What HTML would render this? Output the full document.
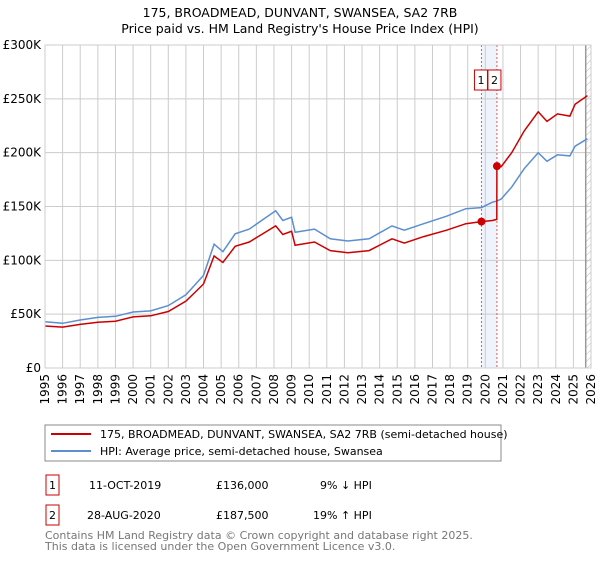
<!DOCTYPE html>
<html><head><meta charset="utf-8"><style>
body{margin:0;background:#fff;font-family:"Liberation Sans","DejaVu Sans",sans-serif;}
svg text{font-family:"DejaVu Sans","Liberation Sans",sans-serif;}
</style></head><body>
<svg id="c" width="600" height="560" xmlns="http://www.w3.org/2000/svg">
<text x="300" y="17" text-anchor="middle" font-size="12.5">175, BROADMEAD, DUNVANT, SWANSEA, SA2 7RB</text>
<text x="300" y="33" text-anchor="middle" font-size="12.5">Price paid vs. HM Land Registry's House Price Index (HPI)</text>
<g id="grid"></g>
<g id="series"></g>
<g id="axes"></g>
<rect x="45" y="425" width="456" height="36" fill="#fff" stroke="#888"/>
<line x1="51" y1="434" x2="91" y2="434" stroke="#cc0000" stroke-width="2"/>
<text x="100" y="438" font-size="11">175, BROADMEAD, DUNVANT, SWANSEA, SA2 7RB (semi-detached house)</text>
<line x1="51" y1="451" x2="91" y2="451" stroke="#5b8fd0" stroke-width="2"/>
<text x="100" y="455" font-size="11">HPI: Average price, semi-detached house, Swansea</text>
<g font-size="11">
<rect x="46" y="475" width="13" height="20" fill="none" stroke="#cc0000"/>
<text x="52.5" y="489" text-anchor="middle">1</text>
<text x="89" y="489">11-OCT-2019</text><text x="216" y="489">£136,000</text><text x="320" y="489">9% ↓ HPI</text>
<rect x="46" y="505" width="13" height="20" fill="none" stroke="#cc0000"/>
<text x="52.5" y="519" text-anchor="middle">2</text>
<text x="87" y="519">28-AUG-2020</text><text x="216" y="519">£187,500</text><text x="313" y="519">19% ↑ HPI</text>
</g>
<text x="45" y="539" font-size="11" fill="#777">Contains HM Land Registry data © Crown copyright and database right 2025.</text>
<text x="45" y="550" font-size="11" fill="#777">This data is licensed under the Open Government Licence v3.0.</text>
</svg>
<script>
const hpiYears=[1995,1996,1997,1998,1999,2000,2001,2002,2003,2003.5,2004,2004.6,2005.1,2005.8,2006.6,2007.3,2008.1,2008.5,2009.0,2009.2,2010.3,2011.2,2012.2,2013.4,2014.7,2015.4,2016.5,2017.8,2018.9,2019.78,2020.4,2020.66,2020.9,2021.5,2022.2,2023.0,2023.5,2024.1,2024.8,2025.1,2025.8];
const hpiValues=[43,41.5,44.6,47,48,52,53,58,68,77,86,115,108,124.6,129,137,146,137,140,126,129,120,118,120,132,128,134,141,148,149,154,155,157,168,185,200,192,198,197,206,213];
const priceYears=[1995,1996,1997,1998,1999,2000,2001,2002,2003,2003.5,2004,2004.6,2005.1,2005.8,2006.6,2007.3,2008.1,2008.5,2009.0,2009.2,2010.3,2011.2,2012.2,2013.4,2014.7,2015.4,2016.5,2017.8,2018.9,2019.78,2020.4,2020.65,2020.66,2020.9,2021.5,2022.2,2023.0,2023.5,2024.1,2024.8,2025.1,2025.8];
const priceValues=[39,38,40.5,42.5,43.5,47.5,48.5,52.5,62,70,78,104,98,113,117,124,132,124,127,114,117,109,107,109,120,116,122,128,134,136,137,138,187.5,187,200,220,238,229,236,234,245,253];
const saleYears=[2019.78,2020.66];
const saleValues=[136,187.5];
const saleLabels=["1","2"];
const yTicks=[0,50,100,150,200,250,300];
const yTickLabels=["£0","£50K","£100K","£150K","£200K","£250K","£300K"];
const xTicks=[1995,1996,1997,1998,1999,2000,2001,2002,2003,2004,2005,2006,2007,2008,2009,2010,2011,2012,2013,2014,2015,2016,2017,2018,2019,2020,2021,2022,2023,2024,2025,2026];
const dataEnd=2025.7;

const X0=45,X1=591,Y0=368,Y1=45,xMin=1995,xMax=2026,yMax=300;
const xs=v=>X0+(v-xMin)/(xMax-xMin)*(X1-X0);
const ys=v=>Y0-v/yMax*(Y0-Y1);
const NS="http://www.w3.org/2000/svg";
function mk(tag,attrs,parent,text){const e=document.createElementNS(NS,tag);for(const k in attrs)e.setAttribute(k,attrs[k]);if(text!==undefined)e.textContent=text;parent.appendChild(e);return e;}
const grid=document.getElementById('grid'),series=document.getElementById('series'),axes=document.getElementById('axes');
const sh=mk('rect',{x:xs(saleYears[0]),y:Y1,width:xs(saleYears[1])-xs(saleYears[0]),height:Y0-Y1,fill:'#eef3fc'},grid);


const defs=mk('defs',{},grid);
const pat=mk('pattern',{id:'hatch',width:5,height:5,patternUnits:'userSpaceOnUse',patternTransform:'rotate(45)'},defs);
mk('line',{x1:0,y1:0,x2:0,y2:5,stroke:'#bbb','stroke-width':1},pat);
const ht=mk('rect',{x:xs(dataEnd),y:Y1,width:X1-xs(dataEnd),height:Y0-Y1,fill:'url(#hatch)'},grid);


yTicks.forEach((t,i)=>{
  const l=mk('line',{x1:X0,x2:X1,y1:ys(t),y2:ys(t),stroke:'#ccc','stroke-width':1},grid);
  
  
  const tx=mk('text',{x:X0-4,y:ys(t)+4,'text-anchor':'end','font-size':12},axes,yTickLabels[i]);
  
  
});
xTicks.forEach(t=>{
  const l=mk('line',{x1:xs(t),x2:xs(t),y1:Y1,y2:Y0,stroke:'#ccc','stroke-width':1},grid);
  
  
  const tx=mk('text',{x:0,y:0,'text-anchor':'end','font-size':12,transform:`translate(${xs(t)+4},374) rotate(-90)`},axes,String(t));
  
  
});
const el=mk('line',{x1:xs(dataEnd),x2:xs(dataEnd),y1:Y1,y2:Y0,stroke:'#999','stroke-width':1.5},grid);


saleYears.forEach((s,i)=>{
  const l=mk('line',{x1:xs(s),x2:xs(s),y1:Y1,y2:Y0,stroke:'#e05555','stroke-width':1,'stroke-dasharray':'2,2'},grid);
  
  
});
const pts=(xa,ya)=>xa.map((x,i)=>xs(x).toFixed(1)+','+ys(ya[i]).toFixed(1)).join(' ');
const hl=mk('polyline',{points:pts(hpiYears,hpiValues),fill:'none',stroke:'#5b8fd0','stroke-width':1.5},series);


const pl=mk('polyline',{points:pts(priceYears,priceValues),fill:'none',stroke:'#cc0000','stroke-width':1.5},series);


saleYears.forEach((s,i)=>{
  const c=mk('circle',{cx:xs(s),cy:ys(saleValues[i]),r:4,fill:'#cc0000'},series);
  
  
  const bx=i===0?xs(s)-7:xs(s)-9;
  const b=mk('rect',{x:bx,y:70,width:13,height:20,fill:'#fff',stroke:'#cc0000'},series);
  
  
  const t=mk('text',{x:bx+6.5,y:84,'text-anchor':'middle','font-size':11},series,saleLabels[i]);
  
  
});
const fr=mk('rect',{x:X0,y:Y1,width:X1-X0,height:Y0-Y1,fill:'none',stroke:'#ccc'},axes);


</script>
</body></html>
